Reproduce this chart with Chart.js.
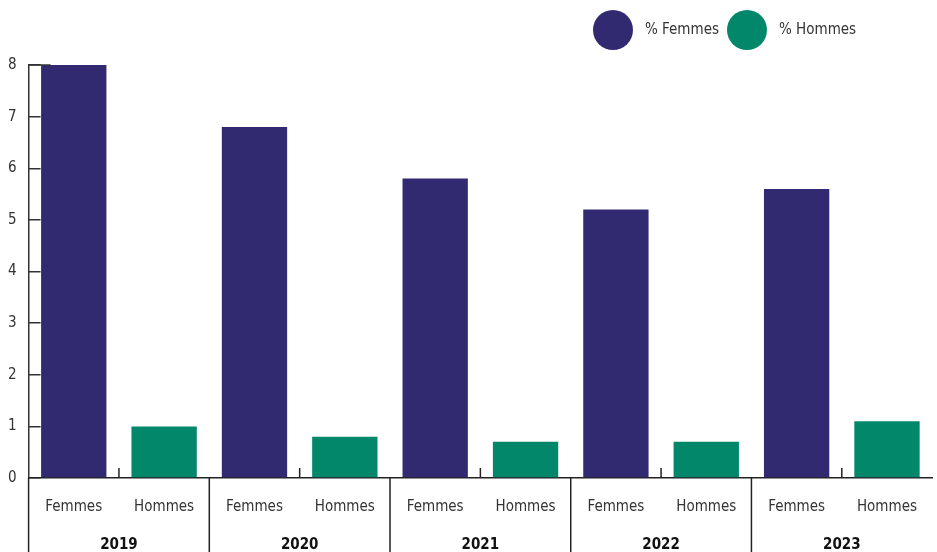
<!DOCTYPE html>
<html>
<head>
<meta charset="utf-8">
<script src="https://cdn.jsdelivr.net/npm/chart.js@4"></script>
<style>
  html, body { margin: 0; padding: 0; background: #fff; }
</style>
</head>
<body>
<canvas id="chart" width="937" height="552"></canvas>
<script>
const years = ['2019', '2020', '2021', '2022', '2023'];
const genders = ['Femmes', 'Hommes'];
const femmes = [8.0, 6.8, 5.8, 5.2, 5.6];
const hommes = [1.0, 0.8, 0.7, 0.7, 1.1];
const legendLabels = ['% Femmes', '% Hommes'];
const colors = ['#312a70', '#02876a'];

const FONT = "'DejaVu Sans Condensed', 'DejaVu Sans', sans-serif";
const TEXT = '#333';

// one category per (year, gender) pair
const labels = years.flatMap(() => genders);
const femmesData = femmes.flatMap(v => [v, null]);
const hommesData = hommes.flatMap(v => [null, v]);

// separators between years + small ticks between Femmes and Hommes
const groupLines = {
    id: 'groupLines',
    afterDatasetsDraw(chart) {
        const x = chart.scales.x;
        const ctx = chart.ctx;
        const area = chart.chartArea;
        ctx.save();
        ctx.lineWidth = 1.5;
        ctx.strokeStyle = '#222';
        for (let i = 0; i < years.length; i++) {
            const left = i === 0 ? area.left
                : (x.getPixelForValue(2 * i - 1) + x.getPixelForValue(2 * i)) / 2;
            ctx.beginPath();
            ctx.moveTo(left, area.bottom);
            ctx.lineTo(left, chart.height);
            ctx.stroke();

            const mid = (x.getPixelForValue(2 * i) + x.getPixelForValue(2 * i + 1)) / 2;
            ctx.beginPath();
            ctx.moveTo(mid, area.bottom);
            ctx.lineTo(mid, area.bottom - 10);
            ctx.stroke();
        }
        // short cap at the top of the y axis
        ctx.strokeStyle = TEXT;
        ctx.beginPath();
        ctx.moveTo(area.left, area.top);
        ctx.lineTo(area.left + 22, area.top);
        ctx.stroke();
        ctx.restore();
    }
};

// legend with big round swatches
const bigLegend = {
    id: 'bigLegend',
    afterDraw(chart) {
        const ctx = chart.ctx;
        ctx.save();
        ctx.font = '15px ' + FONT;
        ctx.textBaseline = 'middle';
        let x = 593;
        const cy = 30;
        chart.data.datasets.forEach((ds, i) => {
            ctx.fillStyle = ds.backgroundColor;
            ctx.beginPath();
            ctx.arc(x + 20, cy, 20, 0, Math.PI * 2);
            ctx.fill();
            ctx.fillStyle = TEXT;
            ctx.fillText(legendLabels[i], x + 52, cy);
            x += 52 + ctx.measureText(legendLabels[i]).width + 8;
        });
        ctx.restore();
    }
};

new Chart(document.getElementById('chart'), {
    type: 'bar',
    data: {
        labels: labels,
        datasets: [
            { label: legendLabels[0], data: femmesData, backgroundColor: colors[0] },
            { label: legendLabels[1], data: hommesData, backgroundColor: colors[1] }
        ]
    },
    options: {
        responsive: false,
        animation: false,
        datasets: {
            bar: { grouped: false, categoryPercentage: 1, barPercentage: 0.723 }
        },
        layout: { autoPadding: false, padding: { top: 65, left: -16, right: -4, bottom: -2 } },
        plugins: {
            legend: { display: false },
            tooltip: { enabled: false }
        },
        scales: {
            y: {
                min: 0,
                max: 8,
                ticks: { stepSize: 1, padding: 24, color: TEXT, font: { family: FONT, size: 15 } },
                grid: { drawOnChartArea: false, tickLength: -12, color: TEXT, lineWidth: 1.5 },
                border: { color: TEXT, width: 1.5 }
            },
            x: {
                offset: true,
                ticks: { padding: 20, autoSkip: false, maxRotation: 0, color: TEXT, font: { family: FONT, size: 15 } },
                grid: { display: false, drawTicks: false },
                border: { color: '#222', width: 1.5 }
            },
            x2: {
                type: 'category',
                labels: years,
                position: 'bottom',
                offset: true,
                grid: { display: false, drawTicks: false },
                border: { display: false },
                ticks: { padding: 0, color: '#111', font: { family: FONT, size: 15, weight: 'bold' } }
            }
        }
    },
    plugins: [groupLines, bigLegend]
});
</script>
</body>
</html>
